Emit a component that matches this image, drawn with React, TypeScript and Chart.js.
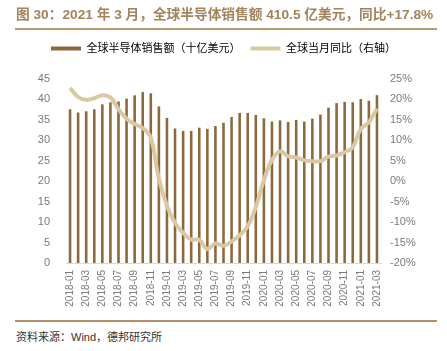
import React, { useEffect, useRef } from "react";
import { Chart, registerables } from "chart.js";

Chart.register(...registerables);

const TITLE = "图 30：2021 年 3 月，全球半导体销售额 410.5 亿美元，同比+17.8%";
const SOURCE = "资料来源：Wind，德邦研究所";
const SERIES_BAR = "全球半导体销售额（十亿美元）";
const SERIES_LINE = "全球当月同比（右轴）";

const months = [
  "2018-01", "2018-02", "2018-03", "2018-04", "2018-05", "2018-06",
  "2018-07", "2018-08", "2018-09", "2018-10", "2018-11", "2018-12",
  "2019-01", "2019-02", "2019-03", "2019-04", "2019-05", "2019-06",
  "2019-07", "2019-08", "2019-09", "2019-10", "2019-11", "2019-12",
  "2020-01", "2020-02", "2020-03", "2020-04", "2020-05", "2020-06",
  "2020-07", "2020-08", "2020-09", "2020-10", "2020-11", "2020-12",
  "2021-01", "2021-02", "2021-03",
];

const sales = [
  37.6, 36.8, 37.1, 37.6, 38.8, 39.3, 39.5, 40.2, 41.0, 41.8, 41.5, 38.3,
  35.5, 32.9, 32.3, 32.3, 33.1, 32.8, 33.5, 34.3, 35.7, 36.7, 36.7, 36.2,
  35.4, 34.6, 34.9, 34.5, 35.0, 34.6, 35.3, 36.3, 38.0, 39.1, 39.4, 39.3,
  40.1, 39.7, 41.05,
];

const yoy = [
  22.8, 20.6, 19.9, 20.3, 21.0, 20.5, 17.6, 15.3, 14.0, 13.0, 10.6, 0.6,
  -6.0, -10.2, -12.6, -14.3, -14.3, -16.6, -15.2, -15.8, -14.7, -13.2, -11.0, -6.3,
  0.3, 5.2, 7.3, 6.1, 5.8, 5.1, 4.9, 4.9, 6.0, 6.3, 7.1, 8.3,
  12.8, 14.4, 17.8,
];

const leftTicks = { min: 0, max: 45, step: 5 };
const rightTicks = { min: -20, max: 25, step: 5 };

const BAR_COLOR = "#8b683d";
const LINE_COLOR = "#dac8a2";
const TICK_COLOR = "#7a7a7a";
const FONT = '"Liberation Sans", "Noto Sans CJK SC", sans-serif';

const legendSpacer = {
  id: "legendSpacer",
  beforeInit(chart: any) {
    const legend = chart.legend;
    if (!legend) return;
    const fit = legend.fit;
    legend.fit = function () {
      fit.call(this);
      this.height += 15;
    };
  },
};

function ChartCanvas() {
  const ref = useRef<HTMLCanvasElement | null>(null);
  useEffect(() => {
    if (!ref.current) return;
    Chart.defaults.font.family = FONT;
    const chart = new Chart(ref.current, {
      type: "bar",
      data: {
        labels: months,
        datasets: [
          {
            type: "bar",
            label: SERIES_BAR,
            data: sales,
            backgroundColor: BAR_COLOR,
            barPercentage: 0.4,
            categoryPercentage: 0.8,
            maxBarThickness: 3,
            yAxisID: "y",
            order: 1,
          },
          {
            type: "line",
            label: SERIES_LINE,
            data: yoy,
            borderColor: LINE_COLOR,
            backgroundColor: LINE_COLOR,
            borderWidth: 4,
            pointRadius: 0,
            tension: 0.4,
            yAxisID: "y1",
            order: 0,
          },
        ] as any,
      },
      options: {
        responsive: false,
        animation: false,
        layout: { padding: { top: 33, left: 0, right: 0, bottom: 0 } },
        plugins: {
          tooltip: { enabled: false },
          legend: {
            position: "top",
            labels: {
              boxWidth: 30,
              boxHeight: 4,
              padding: 10,
              color: TICK_COLOR,
              font: { size: 11, family: FONT },
              generateLabels: () => [
                { text: SERIES_BAR, fillStyle: BAR_COLOR, strokeStyle: BAR_COLOR, lineWidth: 0, datasetIndex: 0, hidden: false },
                { text: SERIES_LINE, fillStyle: LINE_COLOR, strokeStyle: LINE_COLOR, lineWidth: 0, datasetIndex: 1, hidden: false },
              ] as any,
            },
          },
        },
        scales: {
          x: {
            grid: { display: false, drawTicks: false },
            border: { display: true, color: "#d9d9d9", width: 1 },
            ticks: {
              autoSkip: false,
              minRotation: 90,
              maxRotation: 90,
              padding: 7,
              color: TICK_COLOR,
              font: { size: 10, family: FONT },
              callback: (_v: any, i: number) => (i % 2 === 0 ? months[i] : ""),
            },
            afterFit: (s: any) => {
              s.height = 55;
            },
          },
          y: {
            position: "left",
            min: leftTicks.min,
            max: leftTicks.max,
            grid: { display: false, drawTicks: false },
            border: { display: false },
            ticks: {
              stepSize: leftTicks.step,
              padding: 16,
              color: TICK_COLOR,
              font: { size: 11, family: FONT },
            },
            afterFit: (s: any) => {
              s.width = 66;
            },
          },
          y1: {
            position: "right",
            min: rightTicks.min,
            max: rightTicks.max,
            grid: { display: false, drawTicks: false },
            border: { display: false },
            ticks: {
              stepSize: rightTicks.step,
              padding: 9,
              color: TICK_COLOR,
              font: { size: 11, family: FONT },
              callback: (v: any) => `${v}%`,
            },
            afterFit: (s: any) => {
              s.width = 66;
            },
          },
        },
      } as any,
      plugins: [legendSpacer],
    });
    return () => chart.destroy();
  }, []);
  return <canvas ref={ref} width={447} height={318} style={{ position: "absolute", left: 0, top: 0, width: 447, height: 318 }} />;
}

export default function App() {
  return (
    <div style={{ position: "absolute", left: 0, top: 0, width: 447, height: 351, background: "#fff", fontFamily: FONT, overflow: "hidden" }}>
      <ChartCanvas />
      <div style={{ position: "absolute", left: 16, top: 6, fontSize: 13.7, lineHeight: "18px", fontWeight: 700, color: "#a3835b", whiteSpace: "nowrap" }}>
        {TITLE}
      </div>
      <div style={{ position: "absolute", left: 15, top: 28, width: 422, height: 2, background: "#b9996f" }} />
      <div style={{ position: "absolute", left: 15, top: 320, width: 422, height: 2, background: "#b38e68" }} />
      <div style={{ position: "absolute", left: 16, top: 330, fontSize: 11, lineHeight: "14px", color: "#333", whiteSpace: "nowrap" }}>
        {SOURCE}
      </div>
    </div>
  );
}
